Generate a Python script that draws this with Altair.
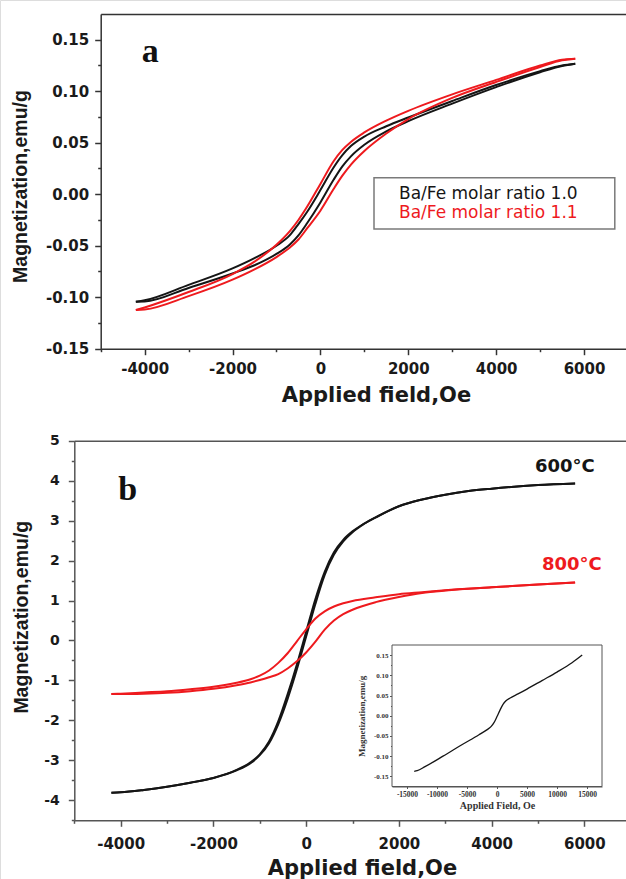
import altair as alt
import pandas as pd

# ---------------- data ----------------
# panel a : Ba/Fe molar ratio 1.0 (black) and 1.1 (red), both branches of each loop
A_H = [-4200, -4000, -3000, -2000, -1500, -1000, -700, -500, -300, 0, 300, 500, 700,
       1000, 1500, 2000, 3000, 4000, 5000, 5500, 5800]
A10_DESC = [-0.1044, -0.1030, -0.0880, -0.0720, -0.0620, -0.0500, -0.0400, -0.0290, -0.0170, 0.0040,
            0.0260, 0.0380, 0.0470, 0.0560, 0.0660, 0.0745, 0.0905, 0.1060, 0.1195, 0.1250, 0.1267]
A10_ASC = [-0.1044, -0.1042, -0.0910, -0.0770, -0.0690, -0.0580, -0.0490, -0.0400, -0.0280, -0.0080,
           0.0140, 0.0270, 0.0370, 0.0480, 0.0610, 0.0710, 0.0880, 0.1040, 0.1185, 0.1245, 0.1267]
A11_DESC = [-0.1125, -0.1100, -0.0950, -0.0775, -0.0655, -0.0490, -0.0360, -0.0250, -0.0120, 0.0100,
            0.0320, 0.0430, 0.0510, 0.0600, 0.0715, 0.0810, 0.0970, 0.1110, 0.1250, 0.1305, 0.1316]
A11_ASC = [-0.1125, -0.1120, -0.0990, -0.0830, -0.0730, -0.0610, -0.0520, -0.0440, -0.0330, -0.0160,
           0.0050, 0.0180, 0.0290, 0.0420, 0.0590, 0.0730, 0.0935, 0.1090, 0.1235, 0.1300, 0.1316]
LEGEND_LABELS = ["Ba/Fe molar ratio 1.0", "Ba/Fe molar ratio 1.1"]

# panel b : 600 C (black) and 800 C (red)
B_H600 = [-4200, -4000, -3500, -3000, -2500, -2000, -1500, -1200, -1000, -800, -600, -400, -200, 0,
          200, 400, 600, 800, 1000, 1200, 1500, 2000, 2500, 3000, 3500, 4000, 5000, 5800]
B600_DESC = [-3.81, -3.80, -3.74, -3.66, -3.56, -3.44, -3.24, -3.05, -2.85, -2.53, -2.02, -1.35, -0.60, 0.22,
             1.04, 1.72, 2.21, 2.52, 2.73, 2.89, 3.08, 3.36, 3.53, 3.65, 3.74, 3.80, 3.89, 3.93]
B600_ASC = [-3.81, -3.80, -3.74, -3.66, -3.56, -3.44, -3.25, -3.07, -2.87, -2.57, -2.09, -1.46, -0.72, 0.10,
            0.92, 1.64, 2.15, 2.48, 2.71, 2.88, 3.08, 3.36, 3.53, 3.65, 3.74, 3.80, 3.89, 3.93]
B_H800 = [-4200, -4000, -3500, -3000, -2500, -2000, -1500, -1200, -1000, -800, -600, -400, -200, 0,
          200, 400, 600, 800, 1000, 1500, 2000, 2500, 3000, 4000, 5000, 5800]
B800_DESC = [-1.34, -1.33, -1.30, -1.27, -1.22, -1.16, -1.06, -0.97, -0.88, -0.75, -0.56, -0.32, -0.02, 0.28,
             0.55, 0.73, 0.85, 0.93, 0.99, 1.08, 1.16, 1.21, 1.26, 1.33, 1.40, 1.45]
B800_ASC = [-1.34, -1.34, -1.33, -1.31, -1.27, -1.21, -1.12, -1.05, -0.99, -0.92, -0.84, -0.70, -0.52, -0.30,
            -0.03, 0.27, 0.50, 0.66, 0.77, 0.96, 1.09, 1.19, 1.25, 1.33, 1.40, 1.45]
B_LABELS = ["600\u00b0C", "800\u00b0C"]

# inset of panel b
INSET_H = [-13800, -13300, -12000, -9000, -6000, -3000, -1700, -1000, -500, 0, 500, 1000, 1500,
           2200, 3500, 5000, 7500, 10000, 12500, 14200]
INSET_M = [-0.1375, -0.136, -0.126, -0.100, -0.073, -0.047, -0.035, -0.027, -0.017, -0.002, 0.014,
           0.028, 0.037, 0.044, 0.054, 0.066, 0.087, 0.108, 0.131, 0.150]

# ---------------- layout / styling ----------------
W, H = 626, 879
BLACK = "#151515"
RED = "#ee1a1e"
SANS = "DejaVu Sans"
ARIAL = "Liberation Sans"
SERIF = "Liberation Serif"
TXT = "#1a1a1a"

X_MAX = 7500                                     # both main panels run past the right edge
AX = [100.7, 100.7 + 12500 * 0.04394]; AY = [348.7, 14.0]     # panel a plot box (pixels)
BX = [74.3, 74.3 + 12500 * 0.04637]; BY = [820.3, 440.7]      # panel b plot box
IX = [392.0, 602.0]; IY = [786.5, 645.0]                      # inset plot box


def loop_df(h, desc, asc):
    return pd.concat([
        pd.DataFrame({"H": h, "M": desc, "branch": "desc"}),
        pd.DataFrame({"H": h, "M": asc, "branch": "asc"}),
    ], ignore_index=True)


def x_axis(color, bottom, pad, title_x, title_y):
    return alt.Axis(
        orient="bottom", offset=bottom - H,
        values=list(range(-5000, 7000, 1000)),
        labelExpr="datum.value % 2000 == 0 ? (datum.value < 0 ? '-' : '') + format(abs(datum.value), 'd') : ''",
        tickSize={"condition": {"test": "datum.value % 2000 != 0", "value": 3}, "value": 6},
        tickColor=color, tickWidth=1.5, domainColor=color, domainWidth=1.5,
        labelFont=SANS, labelFontWeight="bold", labelFontSize=15, labelColor=TXT,
        labelPadding=pad, labelFlush=False, labelOverlap=False, grid=False,
        title="Applied field,Oe", titleFont=SANS, titleFontWeight="bold", titleFontSize=21,
        titleColor=TXT, titleX=title_x, titleY=title_y, titleBaseline="alphabetic", titleAlign="center")


def top_axis(color, top):
    return alt.Axis(orient="top", offset=-top, labels=False, ticks=False, title=None, grid=False,
                    domainColor=color, domainWidth=1.5)


def loop_layer(df, color, xs, ys, xaxis, yaxis, width=2):
    return alt.Chart(df).mark_line(color=color, strokeWidth=width, interpolate="monotone").encode(
        x=alt.X("H:Q", scale=xs, axis=xaxis),
        y=alt.Y("M:Q", scale=ys, axis=yaxis),
        detail="branch:N", order="H:Q")


one = pd.DataFrame({"k": [0]})


def label(text, x, y, color, font, size, weight="normal", baseline="alphabetic"):
    return alt.Chart(one).mark_text(text=text, color=color, font=font, fontSize=size, fontWeight=weight,
                                    align="left", baseline=baseline).encode(x=alt.value(x), y=alt.value(y))


def box(x0, x1, y0, y1, stroke, sw):
    return alt.Chart(one).mark_rect(fill="white", stroke=stroke, strokeWidth=sw).encode(
        x=alt.value(x0), x2=alt.value(x1), y=alt.value(y0), y2=alt.value(y1))


# ---------------- panel a ----------------
a_xs = alt.Scale(domain=[-5000, X_MAX], range=AX, nice=False, zero=False)
a_ys = alt.Scale(domain=[-0.15, 0.175], range=AY, nice=False, zero=False)
a_yaxis = alt.Axis(
    orient="left", offset=-AX[0],
    values=[round(-0.15 + 0.025 * i, 3) for i in range(13)],
    labelExpr="abs(round(datum.value * 40)) % 2 == 0 ? (datum.value < -0.0001 ? '-' : '') + format(abs(datum.value), '.2f') : ''",
    tickSize={"condition": {"test": "abs(round(datum.value * 40)) % 2 == 1", "value": 3}, "value": 6},
    tickColor="#333", tickWidth=1.5, domainColor="#333", domainWidth=1.5,
    labelFont=SANS, labelFontWeight="bold", labelFontSize=15, labelColor=TXT,
    labelPadding=6, labelOverlap=False, grid=False,
    title="Magnetization,emu/g", titleFont=ARIAL, titleFontWeight="bold", titleFontSize=19.5,
    titleColor=TXT, titleX=-74.7, titleY=186, titleBaseline="alphabetic", titleAlign="center")

a_black = loop_layer(loop_df(A_H, A10_DESC, A10_ASC), BLACK, a_xs, a_ys,
                     x_axis("#333", AY[0], 7, 376, 52.8), a_yaxis)
a_red = loop_layer(loop_df(A_H, A11_DESC, A11_ASC), RED, a_xs, a_ys, top_axis("#333", AY[1]), None)
a_box = box(374, 614.8, 177.7, 229, "#7a7a7a", 1.5)
a_leg1 = label(LEGEND_LABELS[0], 399, 193.5, BLACK, SANS, 17, baseline="middle")
a_leg2 = label(LEGEND_LABELS[1], 399, 213, RED, SANS, 17, baseline="middle")
a_letter = label("a", 141.7, 62.3, "#111", SERIF, 34, "bold")

# ---------------- panel b ----------------
b_xs = alt.Scale(domain=[-5000, X_MAX], range=BX, nice=False, zero=False)
b_ys = alt.Scale(domain=[-4.5, 5], range=BY, nice=False, zero=False)
b_yaxis = alt.Axis(
    orient="left", offset=-BX[0],
    values=[-4.5 + 0.5 * i for i in range(20)],
    labelExpr="datum.value == round(datum.value) ? (datum.value < 0 ? '-' : '') + format(abs(datum.value), 'd') : ''",
    tickSize={"condition": {"test": "datum.value != round(datum.value)", "value": 3}, "value": 6},
    tickColor="#555", tickWidth=1.5, domainColor="#555", domainWidth=1.5,
    labelFont=SANS, labelFontWeight="bold", labelFontSize=14, labelColor=TXT,
    labelPadding=9, labelOverlap=False, grid=False,
    title="Magnetization,emu/g", titleFont=ARIAL, titleFontWeight="bold", titleFontSize=19.5,
    titleColor=TXT, titleX=-47.3, titleY=616.7, titleBaseline="alphabetic", titleAlign="center")

b_black = loop_layer(loop_df(B_H600, B600_DESC, B600_ASC), BLACK, b_xs, b_ys,
                     x_axis("#555", BY[0], 10, 362, 54), b_yaxis)
b_red = loop_layer(loop_df(B_H800, B800_DESC, B800_ASC), RED, b_xs, b_ys, top_axis("#555", BY[1]), None)
b_t600 = label(B_LABELS[0], 535, 471.7, BLACK, SANS, 18, "bold")
b_t800 = label(B_LABELS[1], 542, 570, RED, SANS, 18, "bold")
b_letter = label("b", 118.3, 500, "#111", SERIF, 34, "bold")
b_frame = box(IX[0], IX[1], IY[1], IY[0], "#555", 1)

# ---------------- inset ----------------
inset_xaxis = alt.Axis(
    orient="bottom", offset=IY[0] - H,
    values=[-15000, -10000, -5000, 0, 5000, 10000, 15000],
    labelExpr="(datum.value < 0 ? '-' : '') + format(abs(datum.value), 'd')",
    tickSize=2, tickColor="#555", domainColor="#555", domainWidth=1,
    labelFont=SERIF, labelFontWeight="bold", labelFontSize=7.5, labelColor="#333",
    labelPadding=1.5, labelFlush=False, labelOverlap=False, grid=False,
    title="Applied Field, Oe", titleFont=SERIF, titleFontWeight="bold", titleFontSize=10,
    titleColor="#333", titleX=(IX[0] + IX[1]) / 2, titleY=21.5, titleBaseline="alphabetic",
    titleAlign="center")
inset_yaxis = alt.Axis(
    orient="left", offset=-IX[0],
    values=[round(-0.15 + 0.025 * i, 3) for i in range(13)],
    labelExpr="abs(round(datum.value * 40)) % 2 == 0 ? (datum.value < -0.0001 ? '-' : '') + format(abs(datum.value), '.2f') : ''",
    tickSize={"condition": {"test": "abs(round(datum.value * 40)) % 2 == 1", "value": 1.5}, "value": 2.5},
    tickColor="#555", domainColor="#555", domainWidth=1,
    labelFont=SERIF, labelFontWeight="bold", labelFontSize=7, labelColor="#333",
    labelPadding=1.5, labelOverlap=False, grid=False,
    title="Magnetization,emu/g", titleFont=SERIF, titleFontWeight="bold", titleFontSize=9,
    titleColor="#333", titleX=-28, titleY=(IY[0] + IY[1]) / 2, titleBaseline="alphabetic",
    titleAlign="center")
i_xs = alt.Scale(domain=[-17500, 17500], range=IX, nice=False, zero=False)
i_ys = alt.Scale(domain=[-0.175, 0.175], range=IY, nice=False, zero=False)
inset = alt.Chart(pd.DataFrame({"H": INSET_H, "M": INSET_M})).mark_line(
    color=BLACK, strokeWidth=1.3, interpolate="monotone").encode(
    x=alt.X("H:Q", scale=i_xs, axis=inset_xaxis),
    y=alt.Y("M:Q", scale=i_ys, axis=inset_yaxis),
    order="H:Q")

chart = alt.layer(
    a_black, a_red, a_box, a_leg1, a_leg2, a_letter,
    b_black, b_red, b_t600, b_t800, b_letter, b_frame, inset,
).resolve_scale(x="independent", y="independent").resolve_axis(
    x="independent", y="independent"
).properties(
    width=W, height=H, padding=0, autosize=alt.AutoSizeParams(type="none"),
).configure_view(stroke=None).configure(background="white")

chart.save("out.html", embed_options={"renderer": "svg", "actions": False})
